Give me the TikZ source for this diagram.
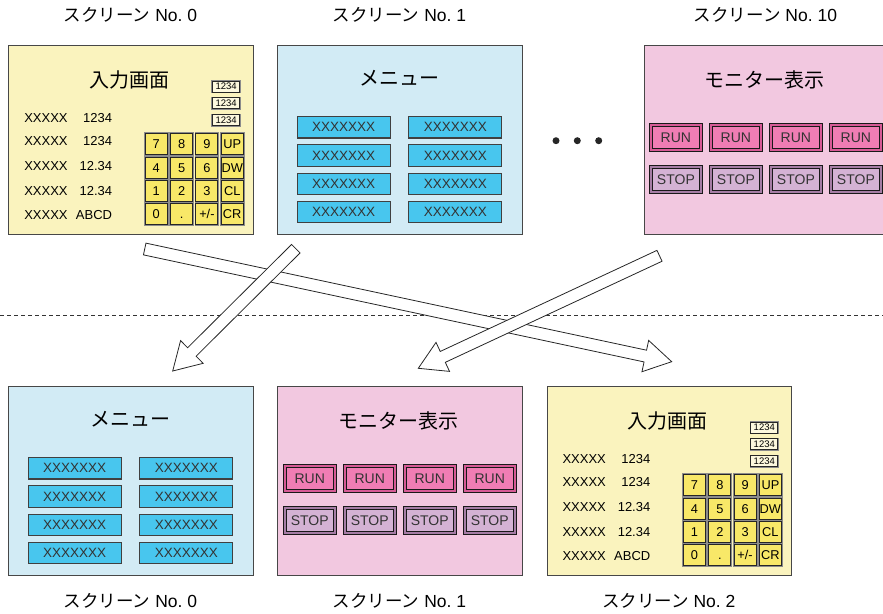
\documentclass[tikz,border=0pt]{standalone}
\usepackage{fontspec}
\setmainfont{Liberation Sans}
\newfontfamily\jp{Noto Sans CJK JP}
\usetikzlibrary{calc}
\definecolor{pyellow}{RGB}{250,243,190}
\definecolor{pblue}{RGB}{210,235,245}
\definecolor{ppink}{RGB}{242,200,224}
\definecolor{kyellow}{RGB}{248,232,104}
\definecolor{nbox}{RGB}{252,248,222}
\definecolor{mblue}{RGB}{72,198,238}
\definecolor{runin}{RGB}{240,125,180}
\definecolor{runband}{RGB}{215,90,150}
\definecolor{stopin}{RGB}{212,178,212}
\definecolor{stopband}{RGB}{165,125,165}
\tikzset{
  panel/.style={draw=black!72, line width=1pt, anchor=north west, minimum width=244.5pt, minimum height=189pt, inner sep=0pt},
  ptitle/.style={font=\jp\fontsize{20}{22}\selectfont},
  lbl/.style={font=\fontsize{17.5}{20}\selectfont, inner sep=0pt},
  rowtxt/.style={font=\fontsize{13}{15}\selectfont, inner sep=0pt},
  numbox/.style={draw=black!85, line width=0.8pt, fill=nbox, preaction={draw=black!45, line width=2.4pt}, minimum width=27pt, minimum height=11pt, inner sep=0pt, font=\fontsize{9.5}{10}\selectfont},
  keybtn/.style={draw=black!85, line width=0.9pt, fill=kyellow, preaction={draw=black!45, line width=2.8pt}, minimum width=22pt, minimum height=21pt, inner sep=0pt, text height=9.2pt, text depth=0pt, font=\fontsize{12.8}{14}\selectfont},
  mbtn/.style={draw=black!75, line width=1.1pt, fill=mblue, minimum width=93pt, minimum height=21.5pt, inner sep=0pt, text=black!80, font=\fontsize{13.5}{15}\selectfont},
  runbtn/.style={draw=black!90, line width=0.8pt, double=runband, double distance=2.4pt, fill=runin, minimum width=50pt, minimum height=25pt, inner sep=0pt, text=black!80, font=\fontsize{14}{15}\selectfont},
  stopbtn/.style={runbtn, double=stopband, fill=stopin},
  bigarrow/.style={draw=black!85, line width=0.8pt, fill=white, line join=miter},
  dotnode/.style={circle, fill=black!85, minimum size=7pt, inner sep=0pt},
}
\newcommand\inputpanel[2]{%
\begin{scope}[shift={(#1)}]
  \node[panel, fill=pyellow] (#2) at (0,0) {};
  \node[ptitle] (#2-t) at (121,34.5) {入力画面};
  \node[numbox] (#2-n1) at (217.8,41.5) {1234};
  \node[numbox] (#2-n2) at (217.8,58.2) {1234};
  \node[numbox] (#2-n3) at (217.8,75.2) {1234};
  \foreach \yy/\vv [count=\i] in {73/1234,96.5/1234,121/12.34,146/12.34,170.5/ABCD} {
    \node[rowtxt, anchor=west] (#2-x\i) at (15.8,\yy) {XXXXX};
    \node[rowtxt, anchor=east] (#2-v\i) at (104,\yy) {\vv};
  }
  \foreach \kk [count=\i from 0] in {7,8,9,UP,4,5,6,DW,1,2,3,CL,0,{.},{+/-},CR} {
    \pgfmathtruncatemacro\cc{mod(\i,4)}
    \pgfmathtruncatemacro\rr{div(\i,4)}
    \node[keybtn] (#2-k\i) at (148+25.3*\cc, 99.2+23.3*\rr) {\kk};
  }
\end{scope}}
\newcommand\menupanel[2]{%
\begin{scope}[shift={(#1)}]
  \node[panel, fill=pblue] (#2) at (0,0) {};
  \node[ptitle] (#2-t) at (122,33.5) {メニュー};
  \foreach \rr in {0,...,3} {
    \node[mbtn] (#2-a\rr) at (66.4, 82.2+28.3*\rr) {XXXXXXX};
    \node[mbtn] (#2-b\rr) at (178, 82.2+28.3*\rr) {XXXXXXX};
  }
\end{scope}}
\newcommand\monitorpanel[2]{%
\begin{scope}[shift={(#1)}]
  \node[panel, fill=ppink] (#2) at (0,0) {};
  \node[ptitle] (#2-t) at (121,35) {モニター表示};
  \foreach \cc in {0,...,3} {
    \node[runbtn] (#2-r\cc) at (32.4+60*\cc, 92.5) {RUN};
    \node[stopbtn] (#2-s\cc) at (32.4+60*\cc, 134.5) {STOP};
  }
\end{scope}}
\newcommand\fatarrow[3]{%
  \coordinate (#3) at ($(#2)!27pt!(#1)$);
  \draw[bigarrow] ($(#1)!6pt!90:(#2)$) -- ($(#3)!6pt!90:(#2)$) -- ($(#3)!16pt!90:(#2)$) -- (#2)
    -- ($(#3)!16pt!-90:(#2)$) -- ($(#3)!6pt!-90:(#2)$) -- ($(#1)!6pt!-90:(#2)$) -- cycle;}
\begin{document}
\begin{tikzpicture}[x=1pt,y=-1pt]
  \useasboundingbox (0,0) rectangle (883,613);
  \clip (0,0) rectangle (883,613);
  % top labels
  \node[lbl] (lt0) at (130.5,14.5) {{\jp スクリーン} No.\ 0};
  \node[lbl] (lt1) at (399.5,14.5) {{\jp スクリーン} No.\ 1};
  \node[lbl] (lt10) at (765.5,14.5) {{\jp スクリーン} No.\ 10};
  % top panels
  \inputpanel{8.3,45}{TI}
  \menupanel{277.3,45}{TM}
  \monitorpanel{643.5,45}{TP}
  \node[dotnode] (d1) at (556,140.7) {};
  \node[dotnode] (d2) at (577.3,140.7) {};
  \node[dotnode] (d3) at (598.7,140.7) {};
  % bottom panels
  \menupanel{8.3,386}{BM}
  \monitorpanel{277.3,386}{BP}
  \inputpanel{546.5,386}{BI}
  % bottom labels
  \node[lbl] (lb0) at (130.5,601) {{\jp スクリーン} No.\ 0};
  \node[lbl] (lb1) at (399.5,601) {{\jp スクリーン} No.\ 1};
  \node[lbl] (lb2) at (668.7,601) {{\jp スクリーン} No.\ 2};
  % dashed separator
  \coordinate (dl) at (0,315);
  \coordinate (dr) at (883,315);
  \draw[black!80, line width=0.8pt, dash pattern=on 4pt off 3pt] (dl) -- (dr);
  % arrows
  \coordinate (a1s) at (144.7,249);   \coordinate (a1e) at (671.7,361.7);
  \coordinate (a2s) at (295.8,248.7); \coordinate (a2e) at (172.7,371);
  \coordinate (a3s) at (659.5,255.8); \coordinate (a3e) at (418.3,368.3);
  \fatarrow{a1s}{a1e}{a1h}
  \fatarrow{a2s}{a2e}{a2h}
  \fatarrow{a3s}{a3e}{a3h}
\end{tikzpicture}
\end{document}
